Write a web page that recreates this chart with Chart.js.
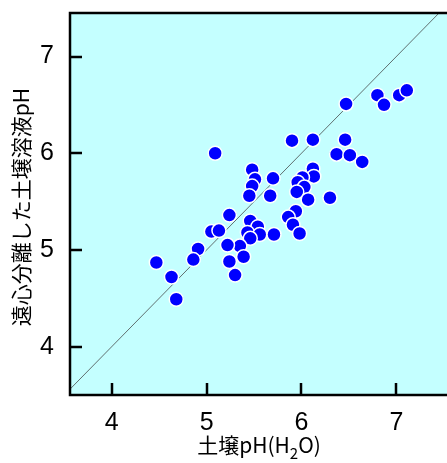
<!DOCTYPE html>
<html>
<head>
<meta charset="utf-8">
<script src="https://cdn.jsdelivr.net/npm/chart.js@4"></script>
<style>
  body { margin: 0; background: #fff; }
  #wrap { width: 447px; height: 463px; overflow: hidden; }
</style>
</head>
<body>
<div id="wrap"><canvas id="chart" width="458" height="463"></canvas></div>
<script>
// soil pH (H2O) vs. pH of centrifuged soil solution
const soilPH = [
  6.47, 6.80, 6.87, 7.03, 7.11, 5.09, 5.90, 6.12, 6.46, 6.37,
  6.51, 6.64, 5.48, 5.51, 5.48, 5.45, 5.70, 5.67, 6.12, 6.13,
  6.01, 5.96, 6.03, 5.95, 6.07, 6.30, 5.94, 5.86, 5.91, 5.98,
  5.46, 5.54, 5.43, 5.56, 5.46, 5.71, 5.35, 5.24, 5.05, 5.13,
  5.22, 5.39, 5.24, 5.30, 4.91, 4.86, 4.47, 4.63, 4.68,
];
const solutionPH = [
  6.51, 6.60, 6.50, 6.60, 6.65, 6.00, 6.13, 6.14, 6.14, 5.99,
  5.98, 5.91, 5.83, 5.73, 5.66, 5.56, 5.74, 5.56, 5.84, 5.76,
  5.75, 5.70, 5.65, 5.60, 5.52, 5.54, 5.40, 5.34, 5.26, 5.17,
  5.30, 5.24, 5.18, 5.16, 5.12, 5.16, 5.04, 5.36, 5.19, 5.20,
  5.05, 4.93, 4.88, 4.74, 5.01, 4.90, 4.87, 4.72, 4.49,
];
const xTicks = [4, 5, 6, 7];
const yTicks = [4, 5, 6, 7];
const oneToOne = [3.5, 7.6];

const X_MIN = 3.56, X_MAX = 7.56;
const Y_MIN = 3.5, Y_MAX = 7.45;

const points = soilPH.map((x, i) => ({ x, y: solutionPH[i] }));

const frame = {
  id: 'frame',
  beforeDraw(chart) {
    const { ctx, chartArea: a } = chart;
    ctx.save();
    ctx.fillStyle = '#c4ffff';
    ctx.fillRect(a.left, a.top, a.right - a.left, a.bottom - a.top);
    ctx.restore();
  },
  afterDraw(chart) {
    const { ctx, chartArea: a, scales } = chart;
    ctx.save();
    ctx.strokeStyle = '#000';
    ctx.lineWidth = 2.5;
    ctx.strokeRect(a.left, a.top, a.right - a.left, a.bottom - a.top);

    // inward tick marks
    ctx.beginPath();
    xTicks.forEach((v) => {
      const px = Math.round(scales.x.getPixelForValue(v));
      ctx.moveTo(px, a.bottom);
      ctx.lineTo(px, a.bottom - 12);
    });
    yTicks.forEach((v) => {
      const py = Math.round(scales.y.getPixelForValue(v));
      ctx.moveTo(a.left, py);
      ctx.lineTo(a.left + 12, py);
    });
    ctx.stroke();

    // axis titles
    ctx.fillStyle = '#000';
    const big = '21px "Noto Sans CJK JP"';
    const small = '15px "Noto Sans CJK JP"';
    ctx.textBaseline = 'alphabetic';
    ctx.font = big;
    const p1 = '土壌pH(H', p3 = 'O)';
    const w1 = ctx.measureText(p1).width;
    const w3 = ctx.measureText(p3).width;
    ctx.font = small;
    const w2 = ctx.measureText('2').width;
    const x0 = 259 - (w1 + w2 + w3) / 2;
    const base = 453;
    ctx.font = big;
    ctx.fillText(p1, x0, base);
    ctx.font = small;
    ctx.fillText('2', x0 + w1, base + 6);
    ctx.font = big;
    ctx.fillText(p3, x0 + w1 + w2, base);

    ctx.translate(21, 207);
    ctx.rotate(-Math.PI / 2);
    ctx.textAlign = 'center';
    ctx.textBaseline = 'middle';
    ctx.fillText('遠心分離した土壌溶液pH', 0, 0);
    ctx.restore();
  },
};

const tickFont = { family: '"Liberation Sans", Arial, sans-serif', size: 25 };

new Chart(document.getElementById('chart'), {
  type: 'scatter',
  data: {
    datasets: [
      {
        data: points,
        backgroundColor: '#0000ff',
        borderColor: '#ffffff',
        borderWidth: 1.5,
        pointRadius: 7,
        order: 1,
      },
      {
        type: 'line',
        data: oneToOne.map((v) => ({ x: v, y: v })),
        borderColor: '#607070',
        borderWidth: 1,
        pointRadius: 0,
        order: 2,
      },
    ],
  },
  options: {
    responsive: false,
    animation: false,
    layout: { padding: { top: 13, left: 0, right: 0, bottom: 0 } },
    plugins: { legend: { display: false }, tooltip: { enabled: false } },
    scales: {
      x: {
        type: 'linear',
        min: X_MIN,
        max: X_MAX,
        grid: { display: false },
        border: { display: false },
        afterBuildTicks: (s) => { s.ticks = xTicks.map((v) => ({ value: v })); },
        afterFit: (s) => { s.height = 68; s.paddingLeft = 0; s.paddingRight = 0; },
        ticks: { padding: 5, color: '#000', font: tickFont },
      },
      y: {
        type: 'linear',
        min: Y_MIN,
        max: Y_MAX,
        grid: { display: false },
        border: { display: false },
        afterBuildTicks: (s) => { s.ticks = yTicks.map((v) => ({ value: v })); },
        afterFit: (s) => { s.width = 70; s.paddingTop = 0; s.paddingBottom = 0; },
        ticks: { padding: 8, color: '#000', font: tickFont },
      },
    },
  },
  plugins: [frame],
});
</script>
</body>
</html>
